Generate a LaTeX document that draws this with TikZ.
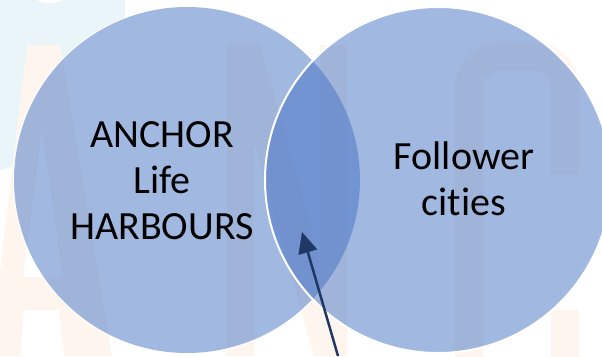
\documentclass[tikz,border=0pt]{standalone}
\usepackage{fontspec}
\setmainfont{Carlito}[Ligatures=NoCommon]
\usetikzlibrary{arrows.meta}
\definecolor{vennblue}{HTML}{4472C4}
\definecolor{navy}{HTML}{1F3864}
\definecolor{markorange}{HTML}{FEF5EF}
\definecolor{markcyan}{HTML}{E9F5F8}
\newcommand{\leftdisc}{(187,180) circle (173)}
\newcommand{\rightdisc}{(438,180) circle (173)}
\newcommand{\letterA}{
\fill[markorange,even odd rule] (27,45) -- (60,45) -- (112,356) -- (64,356) -- (59,310) -- (24,310) -- (20,356) -- (-10,356) -- cycle
(42,127) -- (63,277) -- (23,277) -- cycle;}
\newcommand{\letterN}{
\fill[markorange] (227,45) rectangle (254,356);
\fill[markorange] (320,45) rectangle (347,356);
\fill[markorange] (227,45) -- (260,45) -- (347,356) -- (314,356) -- cycle;}
\newcommand{\letterC}{
\draw[markorange,line width=28pt,rounded corners=30pt] (565,175) -- (565,57) -- (469,57) -- (469,430) -- (565,430) -- (565,310);}

\begin{document}
\begin{tikzpicture}[x=1pt,y=-1pt,
vennlabel/.style={align=center,inner sep=0pt,font=\fontsize{40}{46}\selectfont},
pointer/.style={navy,line width=2.5pt,-{Triangle[length=21pt,width=19pt]}}]

\useasboundingbox (0,0) rectangle (602,356);
\clip (0,0) rectangle (602,356);

\fill[markcyan] (-40,10) circle (165);
\fill[white] (50,-6) ellipse (18 and 9);
\fill[white] \leftdisc \rightdisc;
\letterA
\letterN
\letterC

\begin{scope}[even odd rule]
\clip (0,0) rectangle (602,356) \rightdisc;
\draw[white,line width=2pt] \leftdisc;
\end{scope}

\fill[vennblue,fill opacity=0.5] \leftdisc;
\fill[vennblue,fill opacity=0.5] \rightdisc;
\draw[white,line width=2pt] \rightdisc;

\node[vennlabel] (harbours) at (162,181) {ANCHOR\\Life\\HARBOURS};
\node[vennlabel] (followers) at (464,179) {Follower\\cities};

\coordinate (tail) at (338,356);
\coordinate (lens) at (302,232);
\draw[pointer] (tail) -- (lens);

\end{tikzpicture}
\end{document}
